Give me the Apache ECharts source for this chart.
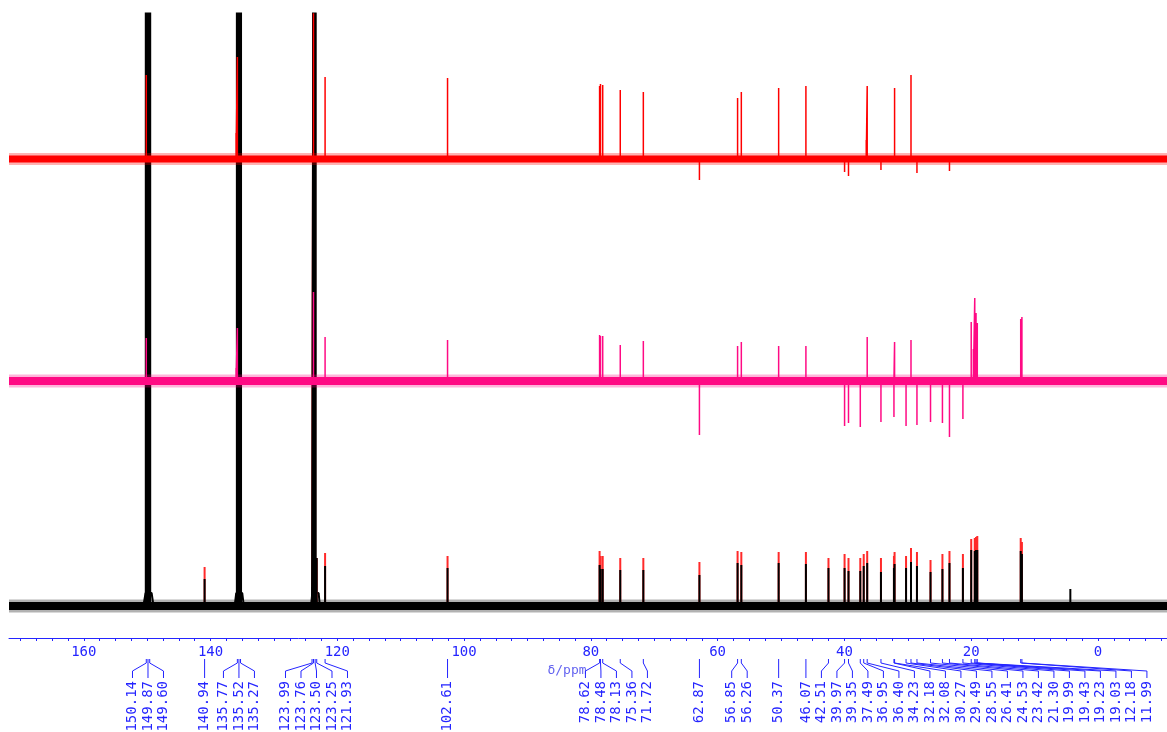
<!DOCTYPE html>
<html><head><meta charset="utf-8">
<script src="https://cdn.jsdelivr.net/npm/echarts@6/dist/echarts.min.js"></script>
<style>html,body{margin:0;padding:0;background:#fff}#c{width:1167px;height:732px}</style>
</head><body><div id="c"></div>
<script>
// ---------- data ----------
const tickLabels = [160, 140, 120, 100, 80, 60, 40, 20, 0];

// peak picks of the bottom (black) spectrum, ppm
const pickPpm = [150.14,149.87,149.60,140.94,135.77,135.52,135.27,123.99,123.76,123.50,123.25,121.93,102.61,
  78.62,78.48,78.13,75.36,71.72,62.87,56.85,56.26,50.37,46.07,42.51,39.97,39.35,37.49,36.95,36.40,34.23,
  32.18,32.08,30.27,29.49,28.55,26.41,24.53,23.42,21.30,19.99,19.43,19.23,19.03,12.18,11.99];
// black spectrum intensities: full peak (red marked top) and black part
const blackTop = [700,700,700,39,700,700,700,29,700,700,48,53,50,
  55,50,50,48,48,44,55,54,54,54,48,52,48,48,52,55,48,
  50,54,50,58,54,46,52,55,52,67,68,69,70,68,64];
const blackCore = [700,700,700,27,700,700,700,19,700,700,48,40,38,
  41,37,37,36,36,31,43,41,43,42,38,38,35,35,40,43,34,
  38,42,38,44,40,34,37,43,38,56,55,56,56,55,52];
const blackExtraPpm = [4.35];
const blackExtraHeight = [17];
// broadened feet of the solvent lines
const foot150Ppm = [150.6, 150.25, 149.3, 149.0];
const foot135Ppm = [136.2, 135.95, 135.0, 134.75];
const foot123Ppm = [124.15, 123.95, 122.95, 122.75];
const footHeight = [0, 13, 13, 0];

// middle (pink) spectrum
const pinkPpm = [150.14,135.97,135.77,123.76,121.93,102.61,78.62,78.48,78.13,75.36,71.72,62.87,56.85,56.26,
  50.37,46.07,39.97,39.35,37.49,36.40,34.23,32.18,32.08,30.27,29.49,28.55,26.41,24.53,23.42,21.30,
  19.99,19.65,19.43,19.23,19.03,12.18,11.99];
const pinkHeight = [43,13,53,89,44,41,46,45,45,36,40,-54,35,39,
  35,35,-45,-42,-46,44,-41,-36,39,-45,41,-44,-41,-42,-56,-38,
  59,32,83,68,58,62,64];

// top (red) spectrum
const redPpm = [150.14,135.97,135.77,123.76,121.93,102.61,78.62,78.48,78.13,75.36,71.72,62.87,56.85,56.26,
  50.37,46.07,39.97,39.35,36.55,36.40,34.23,32.08,29.49,28.55,23.42];
const redHeight = [84,26,102,700,82,81,73,75,74,69,67,-21,61,67,
  71,73,-13,-17,19,73,-11,71,84,-14,-12];

// ---------- layout / style ----------
const X_MIN = -10.9, X_MAX = 171.8, Y_MAX = 624;
const BASE_BLACK = 32, BASE_PINK = 257, BASE_RED = 479;
const AX = '#2424ff';
const MONO = '"DejaVu Sans Mono", "Liberation Mono", monospace';
const LABEL_GAP = 15.5, MERGE_GAP = 17;

const minorTicks = [];
for (let v = -10; v <= 170; v += 2.5) minorTicks.push(v);

function sticks(ppm, h, base) {
  const idx = ppm.map((p, i) => i).sort((a, b) => ppm[b] - ppm[a]);
  const d = [[X_MAX, base]];
  idx.forEach(i => { d.push([ppm[i], base], [ppm[i], base + h[i]], [ppm[i], base]); });
  d.push([X_MIN, base]);
  return d;
}
function lineSeries(data, color, width, opacity) {
  return { type: 'line', data, symbol: 'none', showSymbol: false, silent: true, clip: true,
    animation: false, lineStyle: { color, width, opacity: opacity == null ? 1 : opacity, cap: 'butt' } };
}
function band(base, color, w) {
  return [lineSeries([[X_MAX, base], [X_MIN, base]], color, w + 5, 0.3),
          lineSeries([[X_MAX, base], [X_MIN, base]], color, w)];
}
function foot(ppm, base) { return ppm.map((p, i) => [p, base + footHeight[i]]); }

// the three huge solvent groups of the black trace
const solventIdx = pickPpm.map((p, i) => i).filter(i => blackCore[i] >= 700);
const solventPpm = solventIdx.map(i => pickPpm[i]);
const solventH = solventIdx.map(i => blackCore[i]);

let layoutCache = null;
function computeLayout(api) {
  const px = pickPpm.map(p => api.coord([p, 0])[0]);
  const order = px.map((v, i) => i).sort((a, b) => px[a] - px[b]);
  const clusters = [];
  const endOf = c => c.start + (c.items.length - 1) * LABEL_GAP;
  order.forEach(i => {
    const p = px[i];
    const last = clusters[clusters.length - 1];
    if (last && p - last.peaks[last.peaks.length - 1] < MERGE_GAP) {
      last.items.push(i); last.peaks.push(p);
      const mean = last.peaks.reduce((s, v) => s + v, 0) / last.peaks.length;
      let start = mean - (last.items.length - 1) * LABEL_GAP / 2;
      const prev = clusters[clusters.length - 2];
      if (prev) start = Math.max(start, endOf(prev) + LABEL_GAP);
      last.start = start;
    } else {
      let start = p;
      if (last) start = Math.max(start, endOf(last) + LABEL_GAP);
      clusters.push({ items: [i], peaks: [p], start });
    }
  });
  const lx = new Array(px.length);
  clusters.forEach(c => c.items.forEach((i, k) => { lx[i] = c.start + k * LABEL_GAP; }));
  return { px, lx };
}

const chart = echarts.init(document.getElementById('c'), null, { renderer: 'canvas' });
const series = [];
series.push(lineSeries(foot(foot150Ppm, BASE_BLACK), '#000', 2));
series.push(lineSeries(foot(foot135Ppm, BASE_BLACK), '#000', 2));
series.push(lineSeries(foot(foot123Ppm, BASE_BLACK), '#000', 2));
series.push(lineSeries(sticks(pickPpm, blackTop, BASE_BLACK), '#ff2a2a', 2));
series.push(lineSeries(sticks(pickPpm, blackCore, BASE_BLACK), '#000', 2));
series.push(lineSeries(sticks(solventPpm, solventH, BASE_BLACK), '#000', 3));
series.push(lineSeries(sticks(blackExtraPpm, blackExtraHeight, BASE_BLACK), '#000', 2));
series.push(...band(BASE_BLACK, '#000', 8));
series.push(lineSeries(sticks(pinkPpm, pinkHeight, BASE_PINK), '#ff0a84', 1.5));
series.push(...band(BASE_PINK, '#ff0a84', 8));
series.push(lineSeries(sticks(redPpm, redHeight, BASE_RED), '#ff0000', 1.5));
series.push(...band(BASE_RED, '#ff0000', 7));
series.push({
  type: 'custom', silent: true, animation: false, clip: false,
  data: pickPpm.map(p => [p, 0]),
  renderItem: function (params, api) {
    if (params.dataIndex === 0 || !layoutCache) layoutCache = computeLayout(api);
    const i = params.dataIndex;
    const px = layoutCache.px[i], lx = layoutCache.lx[i];
    const y0 = api.coord([pickPpm[i], 0])[1];
    return {
      type: 'group',
      children: [
        { type: 'polyline', shape: { points: [[px, y0 + 21], [px, y0 + 25], [lx, y0 + 33], [lx, y0 + 40]] },
          style: { stroke: AX, fill: null, lineWidth: 1 } },
        { type: 'text', x: lx, y: y0 + 43, rotation: Math.PI / 2,
          style: { text: pickPpm[i].toFixed(2), font: '14px ' + MONO, fill: AX, align: 'right', verticalAlign: 'middle' } }
      ]
    };
  }
});

chart.setOption({
  animation: false,
  backgroundColor: '#ffffff',
  grid: { left: 9, right: 0, top: 14, bottom: 94 },
  xAxis: {
    type: 'value', inverse: true, min: X_MIN, max: X_MAX,
    axisLine: { show: true, lineStyle: { color: AX, width: 1 } },
    axisTick: { show: true, customValues: minorTicks, length: 3, lineStyle: { color: AX } },
    axisLabel: { show: true, customValues: tickLabels, color: AX, fontSize: 14, fontFamily: MONO, margin: 7 },
    splitLine: { show: false },
    name: 'δ/ppm', nameLocation: 'middle', nameGap: 26,
    nameTextStyle: { color: '#6464f0', fontSize: 13, fontFamily: MONO, padding: [0, 42, 0, 0] }
  },
  yAxis: { type: 'value', min: 0, max: Y_MAX, show: false },
  series
});
</script>
</body></html>
